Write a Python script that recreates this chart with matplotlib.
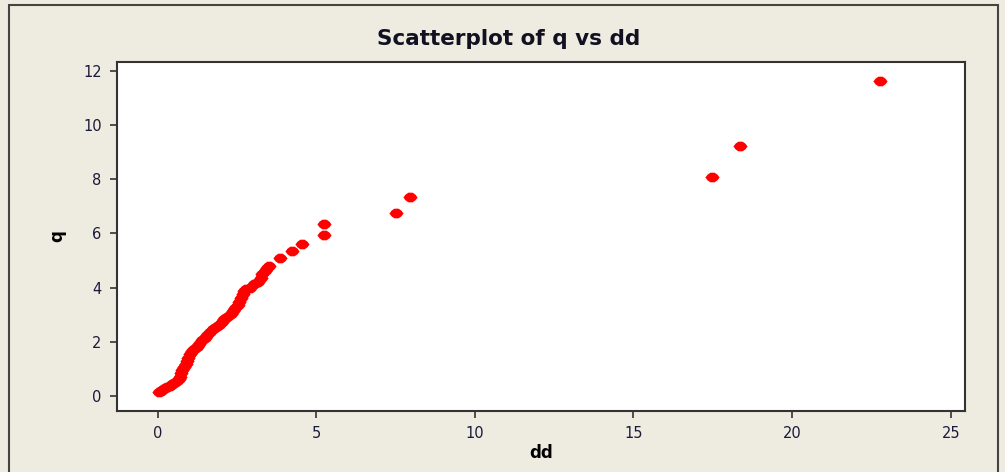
import matplotlib
matplotlib.use("Agg")
import matplotlib.pyplot as plt
from matplotlib.patches import Rectangle
from matplotlib.path import Path
import numpy as np

dd = [0.05, 0.10, 0.15, 0.22, 0.30, 0.38, 0.45, 0.52, 0.60, 0.68,
      0.72, 0.75, 0.78, 0.82, 0.88, 0.92, 0.97, 1.02, 1.08, 1.15,
      1.25, 1.32, 1.40, 1.48, 1.55, 1.65, 1.75, 1.85, 1.95, 2.02,
      2.10, 2.20, 2.30, 2.38, 2.45, 2.52, 2.58, 2.62, 2.68, 2.72,
      2.80, 2.92, 3.05, 3.15, 3.25, 3.30, 3.38, 3.45, 3.52, 3.85,
      4.25, 4.56, 5.24, 5.24, 7.50, 7.97, 17.47, 18.36, 22.78]
q = [0.15, 0.20, 0.22, 0.28, 0.33, 0.38, 0.43, 0.48, 0.55, 0.62,
     0.72, 0.85, 0.98, 1.08, 1.18, 1.30, 1.42, 1.55, 1.68, 1.75,
     1.82, 1.92, 2.05, 2.15, 2.25, 2.35, 2.48, 2.55, 2.62, 2.75,
     2.85, 2.92, 3.02, 3.12, 3.25, 3.35, 3.48, 3.60, 3.75, 3.88,
     3.95, 4.00, 4.12, 4.22, 4.35, 4.50, 4.62, 4.72, 4.80, 5.08,
     5.35, 5.60, 6.34, 5.93, 6.76, 7.35, 8.07, 9.21, 11.61]
x_ticks = [0, 5, 10, 15, 20, 25]
y_ticks = [0, 2, 4, 6, 8, 10, 12]

bg = "#eeebe0"
fig = plt.figure(figsize=(10.05, 4.72), dpi=100, facecolor=bg)
ax = fig.add_axes([117/1005, 1 - 411/472, (965-117)/1005, (411-62)/472])
ax.set_facecolor("white")

verts = [(-1.0, 0.0), (-0.7, 0.4), (-0.3, 0.68), (0.3, 0.68), (0.7, 0.4),
         (1.0, 0.0), (0.7, -0.4), (0.3, -0.68), (-0.3, -0.68), (-0.7, -0.4)]
marker = Path(verts)

ax.scatter(dd, q, marker=marker, s=(10.2)**2, color="#ff0000", linewidths=0)

ax.set_xlim(-1.28, 25.45)
ax.set_ylim(-0.55, 12.32)
ax.set_xticks(x_ticks)
ax.set_yticks(y_ticks)
for s in ax.spines.values():
    s.set_linewidth(1.5)
    s.set_color("#333333")
ax.tick_params(direction="out", length=5, width=1.2, color="#333333",
               labelsize=10.5, labelcolor="#1a1a3a", pad=6)

ax.set_title("Scatterplot of q vs dd", fontsize=15.5, fontweight="bold",
             color="#111122", pad=12, x=(509-117)/848)
ax.set_xlabel("dd", fontsize=12, fontweight="bold", labelpad=2)
ax.set_ylabel("q", fontsize=12, fontweight="bold", labelpad=12)

fig.patches.append(Rectangle((9/1005, -0.05), (998-9)/1005, 1 - 5/472 + 0.05,
                             transform=fig.transFigure, fill=False,
                             edgecolor="#444444", linewidth=1.5))

fig.savefig("out.png", dpi=100, facecolor=bg)
